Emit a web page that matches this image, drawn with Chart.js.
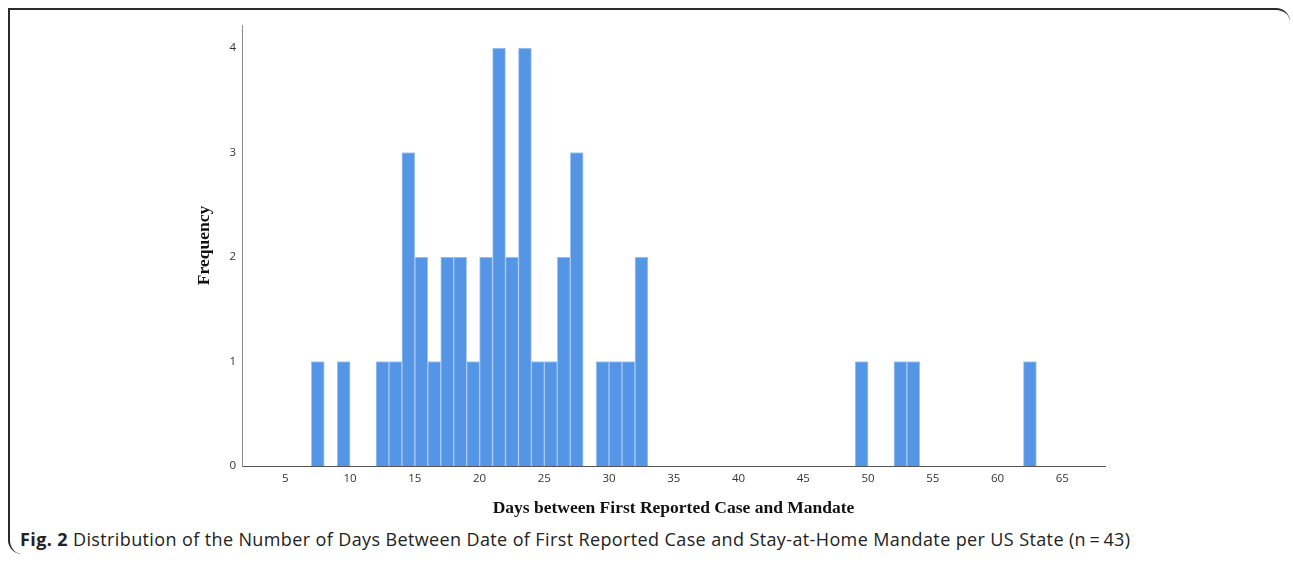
<!DOCTYPE html>
<html>
<head>
<meta charset="utf-8">
<script src="https://cdn.jsdelivr.net/npm/chart.js@4.4.1/dist/chart.umd.min.js"></script>
<style>
  html, body { margin: 0; padding: 0; background: #fff; }
  body { width: 1293px; height: 563px; position: relative; overflow: hidden; }
  #frame {
    position: absolute; left: 8px; top: 8px; width: 1282px; height: 546px;
    border-top: 2px solid #2b2b2b; border-left: 2px solid #2b2b2b;
    border-radius: 0 14px 0 14px; box-sizing: border-box;
  }
  #wrap { position: absolute; left: 0; top: 0; width: 1293px; height: 525px; }
  #caption {
    position: absolute; left: 20px; top: 527px; white-space: nowrap;
    font-family: "Open Sans", sans-serif; font-size: 18px; color: #222;
    letter-spacing: 0.38px;
  }
  #caption b { font-weight: 700; }
</style>
</head>
<body>
<div id="frame"></div>
<div id="wrap"><canvas id="histChart"></canvas></div>
<div id="caption"><b>Fig. 2</b> Distribution of the Number of Days Between Date of First Reported Case and Stay-at-Home Mandate per US State (n&#8201;=&#8201;43)</div>
<script>
// bin start (days) and frequency for each bar
var days   = [7, 9, 12, 13, 14, 15, 16, 17, 18, 19, 20, 21, 22, 23, 24, 25, 26, 27, 29, 30, 31, 32, 49, 52, 53, 62];
var counts = [1, 1,  1,  1,  3,  2,  1,  2,  2,  1,  2,  4,  2,  4,  1,  1,  2,  3,  1,  1,  1,  2,  1,  1,  1,  1];
var xTicks = [5, 10, 15, 20, 25, 30, 35, 40, 45, 50, 55, 60, 65];
var yTicks = [0, 1, 2, 3, 4];

document.addEventListener('DOMContentLoaded', function() {
    var ctx = document.getElementById('histChart').getContext('2d');

    // each bin covers [d, d+1)
    var points = days.map(function(d, i) { return { x: d + 0.5, y: counts[i] }; });

    new Chart(ctx, {
        type: 'bar',
        data: {
            datasets: [{
                label: 'Frequency',
                data: points,
                backgroundColor: '#5595e6',
                borderColor: '#a9c8f0',
                borderWidth: 1,
                borderSkipped: 'bottom',
                barPercentage: 1,
                categoryPercentage: 1
            }]
        },
        options: {
            responsive: true,
            maintainAspectRatio: false,
            animation: false,
            layout: { padding: { left: 0, top: 25, right: 188, bottom: 0 } },
            plugins: {
                legend: { display: false },
                tooltip: { enabled: false }
            },
            scales: {
                x: {
                    type: 'linear',
                    offset: false,
                    min: 1.65,
                    max: 68.3,
                    grid: { display: false, drawTicks: false },
                    border: { display: true, color: '#555', width: 1 },
                    afterBuildTicks: function(scale) {
                        scale.ticks = xTicks.map(function(v) { return { value: v }; });
                    },
                    afterFit: function(scale) { scale.height = 59; },
                    ticks: {
                        padding: 6,
                        color: '#333',
                        font: { family: 'Open Sans', size: 11.5 }
                    },
                    title: {
                        display: true,
                        text: 'Days between First Reported Case and Mandate',
                        color: '#111',
                        font: { family: 'Liberation Serif', size: 17.5, weight: 'bold' },
                        padding: { top: 0, bottom: 6 }
                    }
                },
                y: {
                    min: 0,
                    max: 4.22,
                    grid: { display: false, drawTicks: false },
                    border: { display: true, color: '#8a8a8a', width: 1 },
                    afterBuildTicks: function(scale) {
                        scale.ticks = yTicks.map(function(v) { return { value: v }; });
                    },
                    afterFit: function(scale) { scale.width = 242; },
                    ticks: {
                        padding: 6,
                        color: '#333',
                        font: { family: 'Open Sans', size: 11.5 }
                    },
                    title: {
                        display: true,
                        text: 'Frequency',
                        color: '#111',
                        font: { family: 'Liberation Serif', size: 17.5, weight: 'bold' },
                        padding: { top: 194, bottom: 0 }
                    }
                }
            }
        }
    });
});
</script>
</body>
</html>
